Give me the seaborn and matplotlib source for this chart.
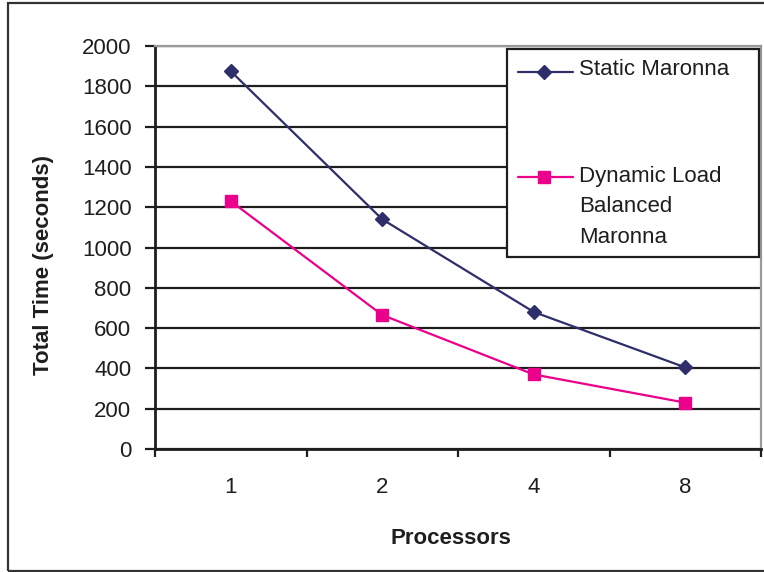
import numpy as np
import pandas as pd
import matplotlib
matplotlib.use("Agg")
import matplotlib.pyplot as plt
from matplotlib.patches import Rectangle
from matplotlib.lines import Line2D
import seaborn as sns

# Runtime of the Maronna estimator versus processor count
processors = ["1", "2", "4", "8"]
static_time = [1875, 1140, 680, 405]
dynamic_time = [1230, 665, 370, 230]
static_name = "Static Maronna"
dynamic_lines = ["Dynamic Load", "Balanced", "Maronna"]
y_ticks = [0, 200, 400, 600, 800, 1000, 1200, 1400, 1600, 1800, 2000]

NAVY = "#2e2e6b"
PINK = "#ea008a"
INK = "#1e1e1e"
FS = 16

W, H = 764, 572
sns.set_theme(style="white")
plt.rcParams["font.family"] = ["Liberation Sans", "DejaVu Sans"]
plt.rcParams["text.color"] = INK


def fx(p):
    return p / W


def fy(p):
    return 1 - p / H


fig = plt.figure(figsize=(W / 100, H / 100), dpi=100)
fig.patch.set_facecolor("white")
ax = fig.add_axes([fx(155), fy(449), fx(761) - fx(155), fy(46) - fy(449)])
ax.set_facecolor("white")

df = pd.DataFrame({
    "Processors": processors * 2,
    "Time": static_time + dynamic_time,
    "Series": ["static"] * len(processors) + ["dynamic"] * len(processors),
})

styles = {
    "static": dict(color=NAVY, marker="D", markersize=7),
    "dynamic": dict(color=PINK, marker="s", markersize=8),
}
for key, st in styles.items():
    sns.lineplot(
        data=df[df["Series"] == key], x="Processors", y="Time",
        color=st["color"], marker=st["marker"], markersize=st["markersize"],
        markeredgecolor=st["color"], markeredgewidth=1, linewidth=1.6,
        sort=False, legend=False, ax=ax, zorder=3,
    )

# Axes: value range, gridlines, frame
ax.set_ylim(0, 2000)
ax.set_xlim(-0.5, len(processors) - 0.5)
ax.set_yticks(y_ticks)
ax.set_yticklabels([str(v) for v in y_ticks], fontsize=FS, color=INK)
ax.set_axisbelow(True)
ax.yaxis.grid(True, color=INK, linewidth=1.6)
ax.xaxis.grid(False)

ax.set_xticks(np.arange(-0.5, len(processors)), labels=[""] * (len(processors) + 1))
ax.set_xticks(np.arange(len(processors)), labels=processors, minor=True)
ax.tick_params(axis="x", which="major", direction="out", length=6, width=1.6,
               color=INK, bottom=True)
ax.tick_params(axis="x", which="minor", length=0, pad=20, labelsize=FS,
               labelcolor=INK, bottom=True)
ax.tick_params(axis="y", direction="out", length=7, width=1.6, color=INK,
               pad=10, left=True)

for side in ("left", "bottom"):
    ax.spines[side].set_color(INK)
    ax.spines[side].set_linewidth(2.0)
for side in ("top", "right"):
    ax.spines[side].set_color("#9a9a9a")
    ax.spines[side].set_linewidth(1.6)

ax.set_ylabel("Total Time (seconds)", fontsize=FS, fontweight="bold", color=INK,
              va="center")
ax.yaxis.set_label_coords((44 - 155) / 606, (449 - 265) / 403)
ax.set_xlabel("Processors", fontsize=FS, fontweight="bold", color=INK, va="center")
ax.xaxis.set_label_coords((451 - 155) / 606, (449 - 538) / 403)

# Legend box with the two series keys
fig.add_artist(Rectangle((fx(507), fy(257)), fx(759) - fx(507), fy(49) - fy(257),
                         transform=fig.transFigure, facecolor="white",
                         edgecolor=INK, linewidth=1.6, zorder=5))
for ykey, st in ((72, styles["static"]), (177, styles["dynamic"])):
    fig.add_artist(Line2D([fx(518), fx(573)], [fy(ykey), fy(ykey)],
                          transform=fig.transFigure, color=st["color"],
                          linewidth=1.6, zorder=6))
    fig.add_artist(Line2D([fx(544)], [fy(ykey)], transform=fig.transFigure,
                          color=st["color"], marker=st["marker"],
                          markersize=st["markersize"], markeredgecolor=st["color"],
                          linestyle="none", zorder=7))
fig.text(fx(579), fy(75), static_name, fontsize=FS, va="baseline", zorder=8)
for yb, line in zip((182, 212, 243), dynamic_lines):
    fig.text(fx(579), fy(yb), line, fontsize=FS, va="baseline", zorder=8)

# Outer chart border
fig.add_artist(Rectangle((fx(8), fy(571)), fx(780) - fx(8), fy(3) - fy(571),
                         transform=fig.transFigure, facecolor="none",
                         edgecolor="#333333", linewidth=1.6, zorder=0))

fig.savefig("out.png", dpi=100, facecolor="white")
